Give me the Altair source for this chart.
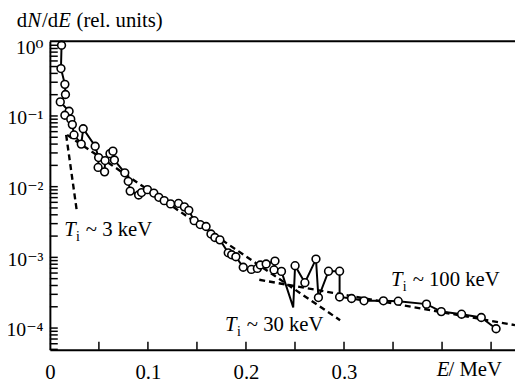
import altair as alt
import pandas as pd

# ---- measured spectrum (E in MeV, dN/dE rel. units); marker=0 -> line vertex only
E_MeV = [0.0119, 0.0113, 0.0153, 0.0159, 0.0106, 0.0196, 0.0153, 0.0213, 0.0229, 0.0246,
         0.0320, 0.0340, 0.0462, 0.0497, 0.0492, 0.0558, 0.0563, 0.0613, 0.0643, 0.0658,
         0.0764, 0.0799, 0.0819, 0.0905, 0.0935, 0.0995, 0.1060, 0.1111, 0.1166, 0.1231,
         0.1312, 0.1372, 0.1417, 0.1472, 0.1533, 0.1593, 0.1643, 0.1683, 0.1734, 0.1819,
         0.1854, 0.1897, 0.1972, 0.2055, 0.2116, 0.2146, 0.2206, 0.2296, 0.2286, 0.2362,
         0.2482, 0.2501, 0.2601, 0.2714, 0.2739, 0.2842, 0.2955, 0.2955, 0.3077, 0.3204,
         0.3402, 0.3553, 0.3841, 0.3992, 0.4199, 0.4400, 0.4551]
dNdE = [1.0, 0.468, 0.280, 0.201, 0.158, 0.1165, 0.1024, 0.0901, 0.0755, 0.0539,
        0.0400, 0.0660, 0.0373, 0.0258, 0.0187, 0.0162, 0.0234, 0.0293, 0.0318, 0.0238,
        0.0157, 0.0119, 0.00865, 0.00762, 0.00825, 0.00908, 0.00812, 0.00707, 0.00634, 0.00570,
        0.00579, 0.00518, 0.00463, 0.00330, 0.00291, 0.00273, 0.00214, 0.00191, 0.00177, 0.00116,
        0.00109, 0.00102, 0.000724, 0.000675, 0.000697, 0.000780, 0.000805, 0.000887, 0.000664, 0.000633,
        0.000196, 0.000762, 0.000438, 0.000946, 0.000270, 0.000637, 0.000637, 0.000275, 0.000262, 0.000243,
        0.000243, 0.000240, 0.000218, 0.000171, 0.000157, 0.000141, 0.0000978]
marker = [1] * 50 + [0] + [1] * 16

# ---- dashed temperature fits
fit_name = ["3", "3", "30", "30", "100", "100"]
fit_E = [0.0166, 0.0276, 0.0176, 0.2960, 0.2136, 0.4744]
fit_y = [0.054, 0.0044, 0.054, 0.000129, 0.000482, 0.000110]

# ---- annotations (anchor of the italic T)
ann_E = [0.0146, 0.1787, 0.3479]
ann_y = [0.00198, 0.0000908, 0.000389]
ann_rest = ["~ 3 keV", "~ 30 keV", "~ 100 keV"]

# ---- axes
x_label_vals = [0, 0.1, 0.2, 0.3]
x_tick_vals = [0.05, 0.1, 0.15, 0.2, 0.25, 0.3, 0.35, 0.4, 0.45]
y_label_vals = [1e-4, 1e-3, 1e-2, 1e-1, 1.0]
y_tick_vals = [m * 10.0 ** k for k in range(-5, 1) for m in range(1, 10)
               if 4.934e-5 <= m * 10.0 ** k <= 1.137]

FONT = "Liberation Serif, DejaVu Serif, serif"
FS = 21
W, H = 472, 313

xs = alt.Scale(domain=[0, 0.4744], nice=False, zero=False)
ys = alt.Scale(type="log", domain=[4.934e-5, 1.137], nice=False)

df = pd.DataFrame({"E": E_MeV, "y": dNdE, "m": marker, "i": list(range(len(E_MeV)))})
fits = pd.DataFrame({"fit": fit_name, "E": fit_E, "y": fit_y})
ann = pd.DataFrame({"E": ann_E, "y": ann_y, "rest": ann_rest})

x_axis = alt.Axis(values=x_label_vals, labelExpr="datum.value == 0 ? '0' : format(datum.value, '.1f')",
                  ticks=False, grid=False, title=None, domainWidth=2, domainColor="black",
                  labelFont=FONT, labelFontSize=FS, labelColor="black", labelPadding=12,
                  labelFlush=False)
y_axis = alt.Axis(values=y_label_vals,
                  labelExpr=("datum.value > 0.5 ? '10⁰' : datum.value > 0.05 ? '10⁻¹' : "
                             "datum.value > 0.005 ? '10⁻²' : datum.value > 0.0005 ? '10⁻³' : '10⁻⁴'"),
                  ticks=False, grid=False, title=None, domainWidth=2, domainColor="black",
                  labelFont=FONT, labelFontSize=20, labelColor="black", labelPadding=7,
                  labelFlush=False, labelOffset=2)

X = lambda f: alt.X(f, scale=xs, title=None)
Y = lambda f: alt.Y(f, scale=ys, title=None)

line = alt.Chart(df).mark_line(color="black", strokeWidth=2).encode(
    x=alt.X("E:Q", scale=xs, axis=x_axis, title=None),
    y=alt.Y("y:Q", scale=ys, axis=y_axis, title=None),
    order=alt.Order("i:Q"),
)
pts = alt.Chart(df).transform_filter("datum.m == 1").mark_point(
    shape="circle", filled=True, fill="white", stroke="black", strokeWidth=1.6, size=62, opacity=1
).encode(x=X("E:Q"), y=Y("y:Q"))

dash = alt.Chart(fits).mark_line(color="black", strokeWidth=2.4, strokeDash=[6, 4]).encode(
    x=X("E:Q"), y=Y("y:Q"), detail="fit:N",
)

ytk = alt.Chart(pd.DataFrame({"E": [0.0] * len(y_tick_vals), "y": y_tick_vals})).mark_rule(
    color="black", strokeWidth=1.5).encode(y=Y("y:Q"), x=alt.value(0), x2=alt.value(8))
xtk = alt.Chart(pd.DataFrame({"E": x_tick_vals})).mark_rule(color="black", strokeWidth=1.5).encode(
    x=X("E:Q"), y=alt.value(H), y2=alt.value(H - 8))
top = alt.Chart(pd.DataFrame({"a": [0]})).mark_rule(color="black", strokeWidth=2).encode(
    x=alt.value(0), x2=alt.value(W), y=alt.value(0))

tT = alt.Chart(ann).mark_text(font=FONT, fontSize=FS, fontStyle="italic", align="left",
                              baseline="alphabetic", color="black").encode(
    x=X("E:Q"), y=Y("y:Q"), text=alt.value("T"))
tI = alt.Chart(ann).mark_text(font=FONT, fontSize=14, align="left", baseline="alphabetic",
                              color="black", dx=12, dy=5).encode(
    x=X("E:Q"), y=Y("y:Q"), text=alt.value("i"))
tR = alt.Chart(ann).mark_text(font=FONT, fontSize=FS, align="left", baseline="alphabetic",
                              color="black", dx=22).encode(
    x=X("E:Q"), y=Y("y:Q"), text="rest:N")


def label(txt, x, y, italic=False, size=FS):
    kw = dict(font=FONT, fontSize=size, align="left", baseline="alphabetic", color="black")
    if italic:
        kw["fontStyle"] = "italic"
    return alt.Chart(pd.DataFrame({"t": [txt]})).mark_text(**kw).encode(
        text="t:N", x=alt.value(x), y=alt.value(y))


title_parts = [
    label("d", -33.5, -15), label("N", -23, -15, True), label("/d", -8, -15),
    label("E", 8.5, -15, True), label("(rel. units)", 27, -15),
]
xtitle = [label("E", 392.5, 340, True), label("/ MeV", 404.5, 340)]

chart = alt.layer(
    line, dash, pts, ytk, xtk, top, tT, tI, tR, *title_parts, *xtitle
).properties(
    width=W, height=H,
    autosize=alt.AutoSizeParams(type="none"),
    padding={"left": 42.5, "top": 31, "right": 0, "bottom": 36},
    background="white",
).configure_view(stroke=None)

chart.save("out.html", embed_options={"renderer": "svg", "actions": False})
